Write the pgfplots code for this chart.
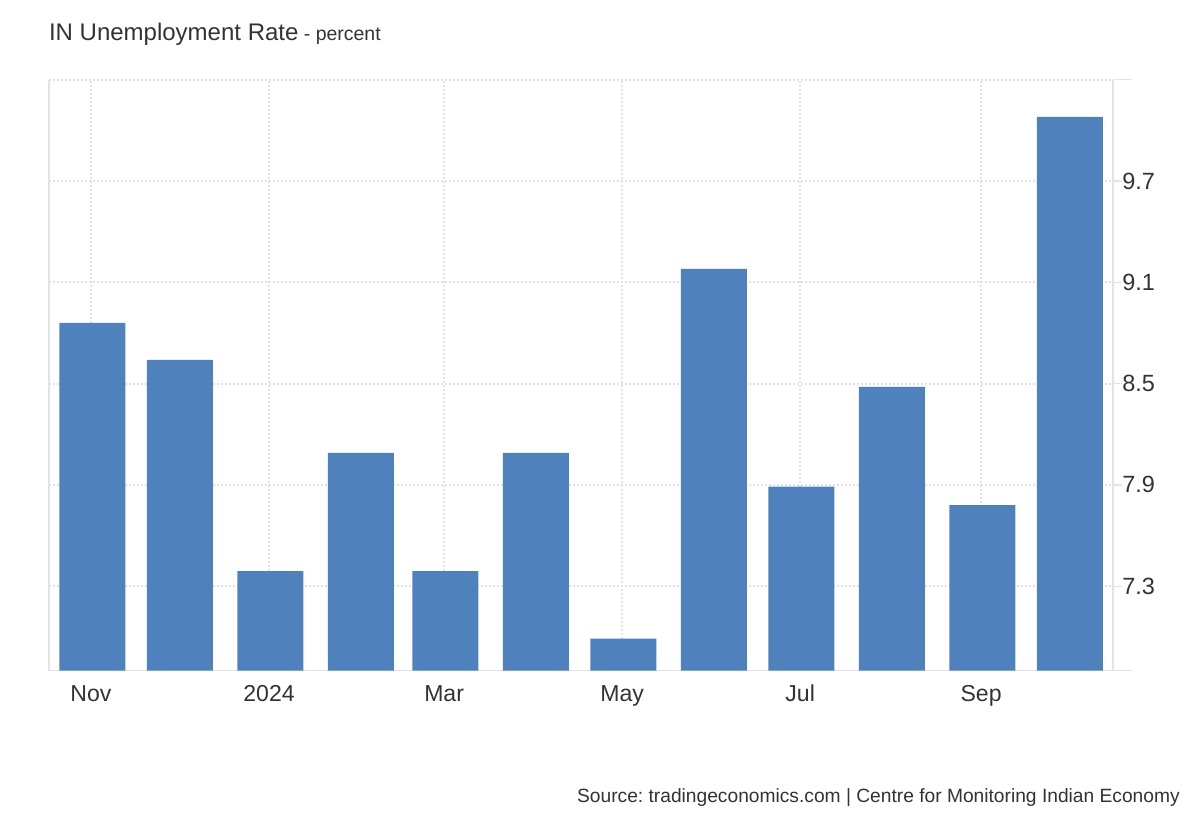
\documentclass[border=0pt]{standalone}
\usepackage{fontspec}
\setmainfont{Liberation Sans}
\usepackage{pgfplots}
\pgfplotsset{compat=1.18}
\definecolor{barblue}{HTML}{4F81BD}
\definecolor{txt}{HTML}{333333}
\definecolor{gridc}{HTML}{E2E2E2}
\definecolor{axc}{HTML}{E3E3E3}
\frenchspacing
\begin{document}
\begin{tikzpicture}[x=1pt,y=1pt]
\path[use as bounding box] (0,0) rectangle (900,615);
\node[anchor=base west, inner sep=0pt, text=txt, font=\fontsize{18}{20}\selectfont] at (36.6,584.25) {IN Unemployment Rate{\fontsize{14.6}{16}\selectfont\ - percent}};
\node[anchor=base east, inner sep=0pt, text=txt, font=\fontsize{14.4}{16}\selectfont] at (885,12.75) {Source: tradingeconomics.com | Centre for Monitoring Indian Economy};
\begin{axis}[
  at={(36.75pt,112.0pt)}, anchor=south west,
  scale only axis, width=798pt, height=443.25pt,
  xmin=-14.39, xmax=350.2, ymin=6.8, ymax=10.3,
  axis x line*=bottom, axis y line*=right,
  x axis line style={axc, line width=1pt},
  y axis line style={axc, line width=1.2pt},
  xtick={0,61,121,182,243,305},
  xticklabels={Nov,2024,Mar,May,Jul,Sep},
  ytick={7.3,7.9,8.5,9.1,9.7},
  yticklabels={7.3,7.9,8.5,9.1,9.7},
  extra y ticks={10.3}, extra y tick labels={},
  extra y tick style={major tick length=14.25pt, grid=major},
  grid=major,
  major grid style={gridc, line width=1.5pt, dash pattern=on 1.5pt off 1.5pt},
  tick align=outside, major tick length=6.75pt,
  ytick style={axc, line width=1pt},
  xtick style={draw=none},
  yticklabel style={anchor=west, inner sep=0pt, text=txt, font=\fontsize{17.6}{19}\selectfont},
  xticklabel style={anchor=base, inner sep=0pt, text=txt, font=\fontsize{17.3}{19}\selectfont, yshift=-16.5pt},
  ybar, bar width=49.5pt, bar shift=1pt,
]
\addplot[fill=barblue, draw=none] coordinates {
 (0,8.86) (30,8.64) (61,7.39) (92,8.09) (121,7.39) (152,8.09)
 (182,6.99) (213,9.18) (243,7.89) (274,8.48) (305,7.78) (335,10.08)
};
\end{axis}
\draw[axc, line width=1.5pt] (36.75,112.0) -- (36.75,555.25);
\draw[axc, line width=1pt] (834.75,112.0) -- (849,112.0);
\end{tikzpicture}
\end{document}
